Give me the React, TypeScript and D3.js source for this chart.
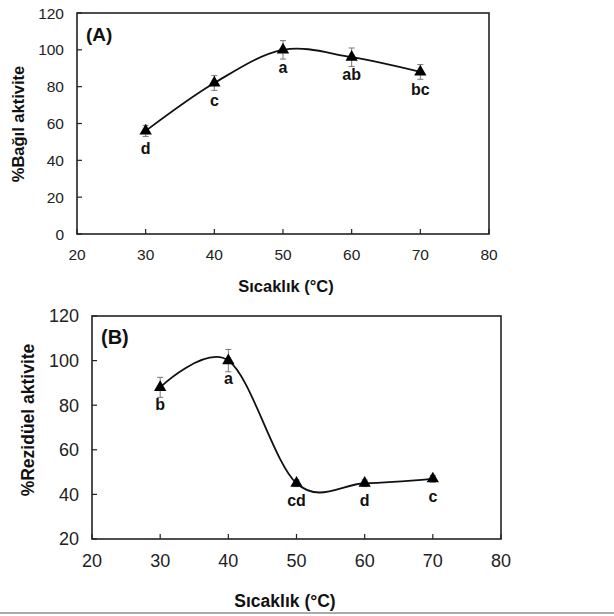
import React from "react";
import * as d3 from "d3";

// sıcaklık değerleri (°C)
const temps = [30, 40, 50, 60, 70];
const xTicks = [20, 30, 40, 50, 60, 70, 80];

// (A) bağıl aktivite
const relActivity = [56, 82, 100, 96, 88];
const relError = [3, 4, 5, 5, 4];
const relLetters = ["d", "c", "a", "ab", "bc"];
const relYTicks = [0, 20, 40, 60, 80, 100, 120];

// (B) rezidüel aktivite
const resActivity = [88, 100, 45, 45, 47];
const resError = [4.5, 5, 1.5, 1.5, 1.5];
const resLetters = ["b", "a", "cd", "d", "c"];
const resYTicks = [20, 40, 60, 80, 100, 120];

const FONT = "'Liberation Sans', Arial, sans-serif";

type PanelProps = {
  box: { left: number; right: number; top: number; bottom: number };
  values: number[];
  errors: number[];
  letters: string[];
  yTicks: number[];
  tag: string;
  yTitle: string;
  tickSize: number;
  titleSize: number;
  tagSize: number;
  yTitlePos: [number, number];
  xTitlePos: [number, number];
  xLabelY: number;
  letterOffset: number;
};

function Panel(p: PanelProps) {
  const { left, right, top, bottom } = p.box;
  const x = d3.scaleLinear().domain([20, 80]).range([left, right]);
  const y = d3
    .scaleLinear()
    .domain([p.yTicks[0], p.yTicks[p.yTicks.length - 1]])
    .range([bottom, top]);
  const pts: [number, number][] = temps.map((t, i) => [x(t), y(p.values[i])]);
  const line = d3.line().curve(d3.curveCardinal.tension(0))(pts) || "";
  const tri = d3.symbol().type(d3.symbolTriangle).size(66)() || "";

  return (
    <g fontFamily={FONT}>
      <rect x={left} y={top} width={right - left} height={bottom - top} fill="none" stroke="#222" strokeWidth={1.6} />
      {p.yTicks.map((t) => (
        <g key={"y" + t}>
          <line x1={left} x2={left + 5} y1={y(t)} y2={y(t)} stroke="#222" strokeWidth={1.2} />
          <text x={left - 13} y={y(t)} dy="0.36em" textAnchor="end" fontSize={p.tickSize} fill="#222">
            {t}
          </text>
        </g>
      ))}
      {xTicks.map((t) => (
        <g key={"x" + t}>
          <line x1={x(t)} x2={x(t)} y1={bottom} y2={bottom - 5} stroke="#222" strokeWidth={1.2} />
          <text x={x(t)} y={p.xLabelY} textAnchor="middle" fontSize={p.tickSize} fill="#222">
            {t}
          </text>
        </g>
      ))}
      <path d={line} fill="none" stroke="#111" strokeWidth={1.8} />
      {temps.map((t, i) => {
        const cx = x(t);
        const hi = y(p.values[i] + p.errors[i]);
        const lo = y(p.values[i] - p.errors[i]);
        return (
          <g key={"p" + t}>
            <line x1={cx} x2={cx} y1={hi} y2={lo} stroke="#777" strokeWidth={1} />
            <line x1={cx - 3} x2={cx + 3} y1={hi} y2={hi} stroke="#777" strokeWidth={1} />
            <line x1={cx - 3} x2={cx + 3} y1={lo} y2={lo} stroke="#777" strokeWidth={1} />
            <path d={tri} transform={`translate(${cx},${y(p.values[i])})`} fill="#000" />
            <text x={cx} y={y(p.values[i]) + p.letterOffset} textAnchor="middle" fontSize={16} fontWeight="bold" fill="#111">
              {p.letters[i]}
            </text>
          </g>
        );
      })}
      <text x={left + 9} y={top + 28} fontSize={p.tagSize} fontWeight="bold" fill="#111">
        {p.tag}
      </text>
      <text
        transform={`translate(${p.yTitlePos[0]},${p.yTitlePos[1]}) rotate(-90)`}
        textAnchor="middle"
        dy="0.35em"
        fontSize={p.titleSize}
        fontWeight="bold"
        fill="#111"
      >
        {p.yTitle}
      </text>
      <text x={p.xTitlePos[0]} y={p.xTitlePos[1]} textAnchor="middle" fontSize={p.titleSize} fontWeight="bold" fill="#111">
        Sıcaklık (°C)
      </text>
    </g>
  );
}

export default function App() {
  return (
    <svg width={614} height={616} style={{ position: "absolute", left: 0, top: 0, background: "#fff" }}>
      <rect width={614} height={616} fill="#fff" />
      <Panel
        box={{ left: 77, right: 489, top: 13, bottom: 234 }}
        values={relActivity}
        errors={relError}
        letters={relLetters}
        yTicks={relYTicks}
        tag="(A)"
        yTitle="%Bağıl aktivite"
        tickSize={15.5}
        titleSize={16.5}
        tagSize={19}
        yTitlePos={[18, 124]}
        xTitlePos={[286, 292]}
        xLabelY={260}
        letterOffset={23}
      />
      <Panel
        box={{ left: 92, right: 501, top: 316, bottom: 539 }}
        values={resActivity}
        errors={resError}
        letters={resLetters}
        yTicks={resYTicks}
        tag="(B)"
        yTitle="%Rezidüel aktivite"
        tickSize={18}
        titleSize={17.5}
        tagSize={20}
        yTitlePos={[28, 420]}
        xTitlePos={[285, 607]}
        xLabelY={567}
        letterOffset={23}
      />
      <line x1={0} x2={614} y1={613} y2={613} stroke="#aaa" strokeWidth={2} />
    </svg>
  );
}
